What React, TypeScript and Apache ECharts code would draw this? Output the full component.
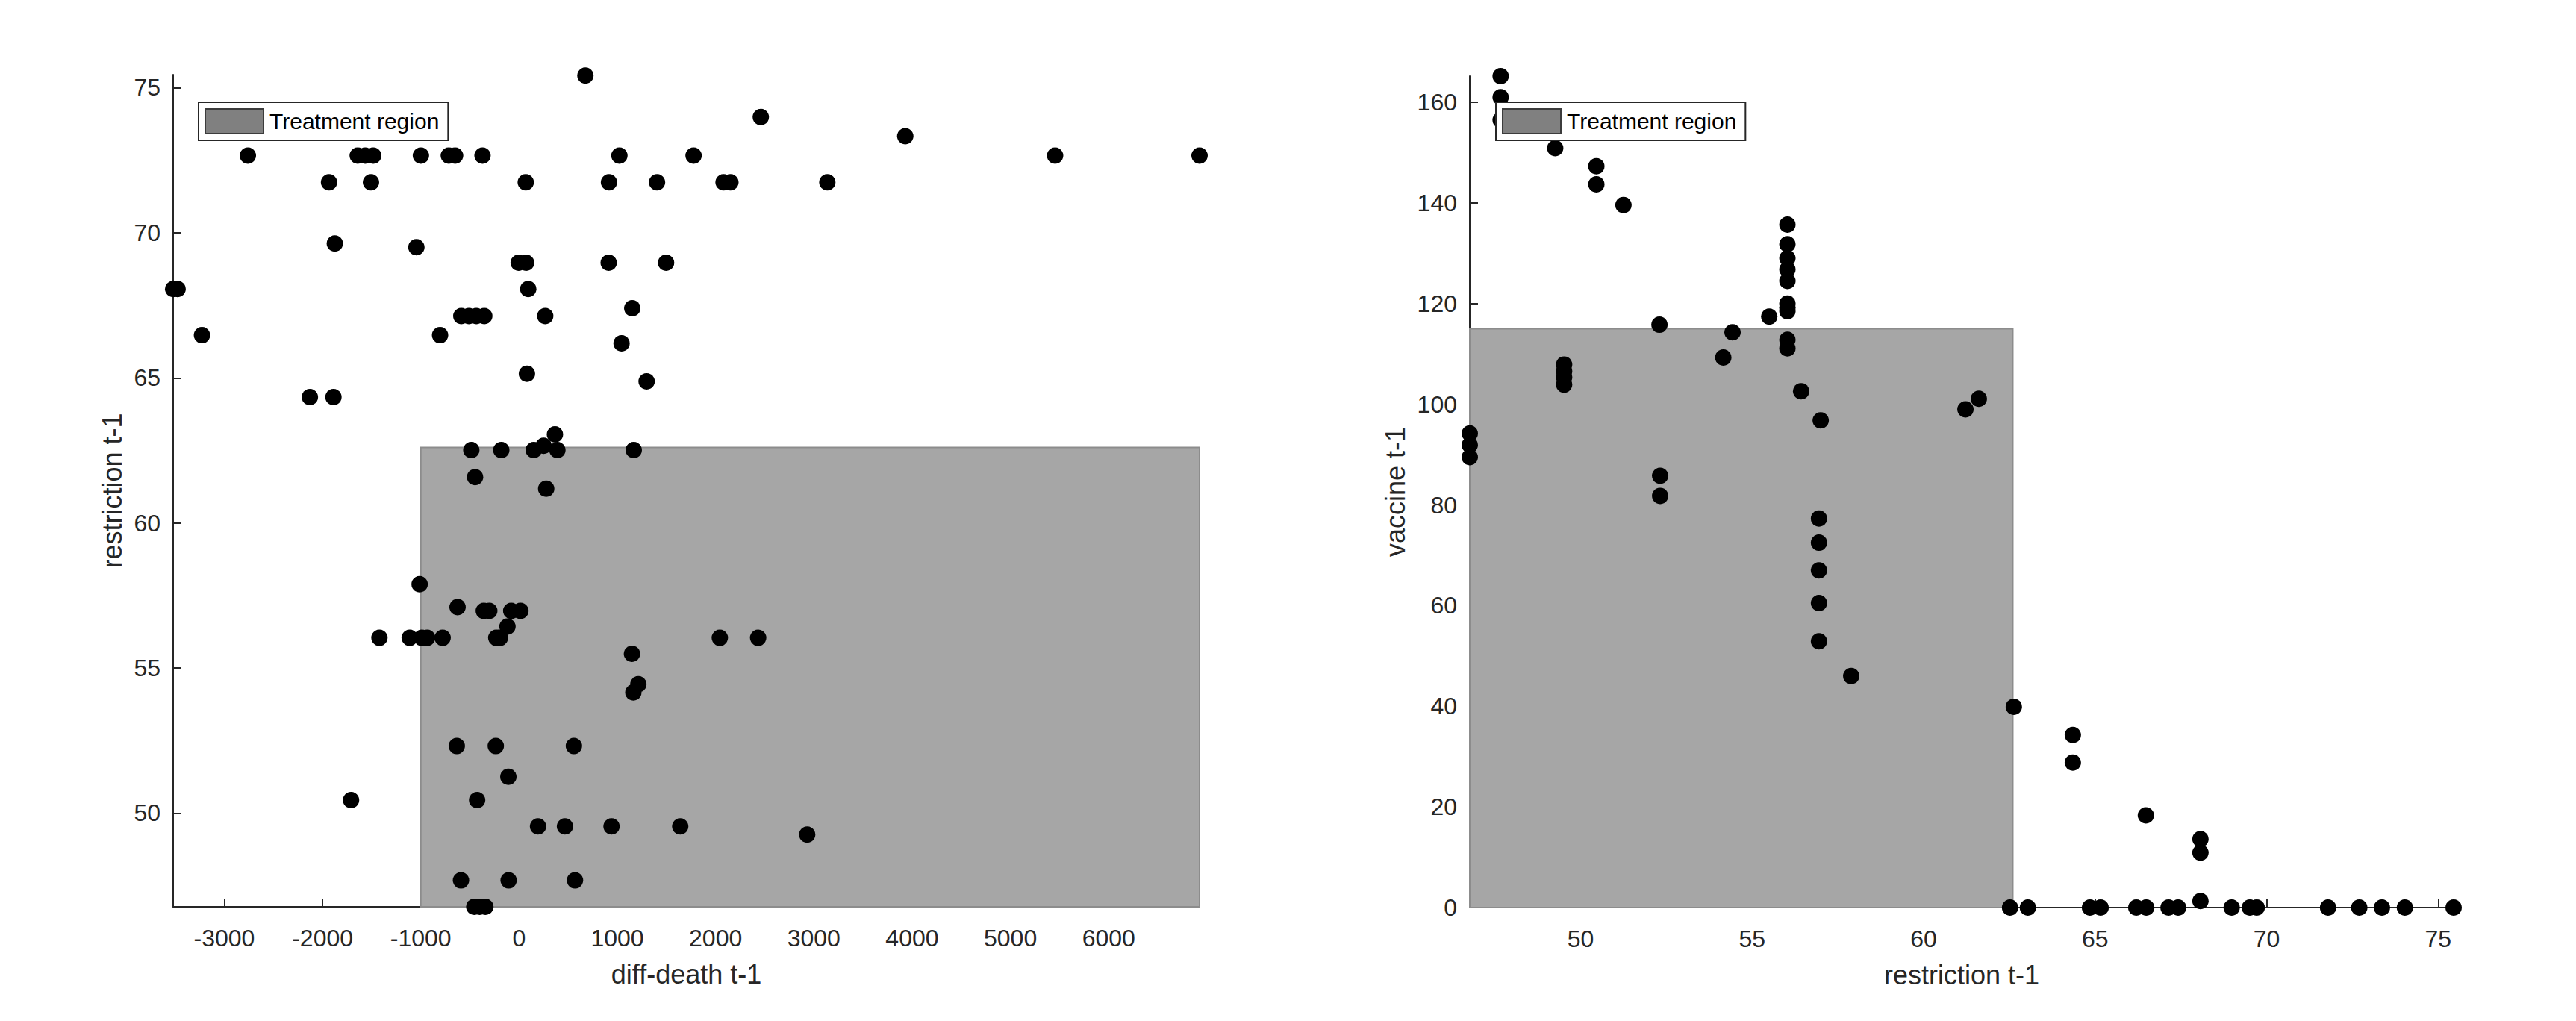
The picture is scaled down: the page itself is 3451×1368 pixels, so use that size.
import React, { useEffect, useRef } from 'react';
import * as echarts from 'echarts';

// ---------- data ----------
// Left panel: [diff-death t-1, restriction t-1]
const deathRestriction: [number, number][] = [
  [675, 75.42],
  [2460, 73.99],
  [3930, 73.33],
  [-2760, 72.66], [-1642, 72.66], [-1566, 72.66], [-1484, 72.66], [-999, 72.66], [-715, 72.66],
  [-651, 72.66], [-372, 72.66], [1021, 72.66], [1776, 72.66], [5455, 72.66], [6925, 72.66],
  [-1934, 71.74], [-1507, 71.74], [68, 71.74], [915, 71.74], [1404, 71.74], [2081, 71.74], [2151, 71.74], [3137, 71.74],
  [-1875, 69.63],
  [-1045, 69.5],
  [-4, 68.97], [72, 68.97], [912, 68.97], [1496, 68.97],
  [-3520, 68.06], [-3475, 68.06], [93, 68.06],
  [1152, 67.4],
  [-588, 67.13], [-511, 67.13], [-435, 67.13], [-354, 67.13], [266, 67.13],
  [-3227, 66.47], [-804, 66.47],
  [1043, 66.19],
  [80, 65.14],
  [1298, 64.88],
  [-2129, 64.34], [-1889, 64.34],
  [365, 63.05],
  [250, 62.66],
  [-486, 62.51], [-181, 62.51], [149, 62.51], [390, 62.51], [1167, 62.51],
  [-448, 61.58],
  [276, 61.18],
  [-1012, 57.89],
  [-626, 57.1],
  [-359, 56.97], [-303, 56.97], [-80, 56.97], [14, 56.97],
  [-118, 56.43],
  [-1421, 56.04], [-1113, 56.04], [-990, 56.04], [-935, 56.04], [-778, 56.04], [-232, 56.04], [-194, 56.04], [2043, 56.04], [2433, 56.04],
  [1149, 55.49],
  [1214, 54.44],
  [1163, 54.16],
  [-634, 52.31], [-237, 52.31], [558, 52.31],
  [-109, 51.25],
  [-1710, 50.45], [-427, 50.45],
  [193, 49.54], [467, 49.54], [941, 49.54], [1640, 49.54],
  [2932, 49.26],
  [-591, 47.68], [-106, 47.68], [569, 47.68],
  [-456, 46.77], [-401, 46.77], [-343, 46.77],
];

// Right panel: [restriction t-1, vaccine t-1]
const restrictionVaccine: [number, number][] = [
  [47.67, 165.2], [47.67, 161.0], [47.67, 156.5],
  [49.26, 150.9], [50.46, 147.3], [50.46, 143.7], [51.25, 139.6],
  [56.03, 135.7], [56.03, 131.8], [56.03, 129.0], [56.03, 126.8], [56.03, 124.5],
  [56.03, 120.0], [56.03, 119.2], [56.03, 118.5], [56.03, 112.8], [56.03, 111.1],
  [55.5, 117.4], [52.3, 115.8], [54.43, 114.3], [54.16, 109.3],
  [49.52, 107.9], [49.52, 106.6], [49.52, 105.4], [49.52, 103.9],
  [56.43, 102.6], [57.0, 96.8],
  [46.77, 94.2], [46.77, 91.9], [46.77, 89.5],
  [61.61, 101.1], [61.22, 99.0],
  [52.32, 85.8], [52.32, 81.8],
  [56.95, 77.3], [56.95, 72.5], [56.95, 67.0], [56.95, 60.5], [56.95, 52.9],
  [57.89, 46.0],
  [62.63, 39.9],
  [64.35, 34.3], [64.35, 28.8],
  [66.48, 18.3],
  [68.07, 13.6], [68.07, 10.9], [68.07, 1.3],
  [62.52, 0], [63.04, 0], [64.85, 0], [65.16, 0], [66.2, 0], [66.49, 0], [67.14, 0], [67.42, 0],
  [68.98, 0], [69.51, 0], [69.71, 0], [71.79, 0], [72.7, 0], [73.36, 0], [74.03, 0], [75.45, 0],
];

// axis ranges and ticks
const deathRange = [-3520, 6925];
const restrictionRange = [46.77, 75.45];
const vaccineRange = [0, 165.2];
const deathTicks = [-3000, -2000, -1000, 0, 1000, 2000, 3000, 4000, 5000, 6000];
const restrictionTicks = [50, 55, 60, 65, 70, 75];
const vaccineTicks = [0, 20, 40, 60, 80, 100, 120, 140, 160];

// treatment regions: [x0, y0, x1, y1]
const leftRegion = [[-1000, restrictionRange[0], deathRange[1], 62.6]];
const rightRegion = [[restrictionRange[0], 0, 62.6, 115]];

const FONT = "'Liberation Sans', Arial, Helvetica, sans-serif";
const AXIS_COLOR = '#262626';

function regionRenderItem(params: any, api: any) {
  const p0 = api.coord([api.value(0), api.value(1)]);
  const p1 = api.coord([api.value(2), api.value(3)]);
  return {
    type: 'rect',
    shape: { x: p0[0], y: p1[1], width: p1[0] - p0[0], height: p0[1] - p1[1] },
    style: { fill: '#a6a6a6', stroke: '#8c8c8c', lineWidth: 2 },
  };
}

function valueAxis(gridIndex: number, range: number[], ticks: number[], name: string, nameGap: number, isY: boolean) {
  return {
    type: 'value',
    gridIndex,
    min: range[0],
    max: range[1],
    name,
    nameLocation: 'middle',
    nameGap,
    nameTextStyle: { fontSize: 36, color: AXIS_COLOR, fontFamily: FONT },
    axisLine: { show: true, onZero: false, lineStyle: { color: AXIS_COLOR, width: 2 } },
    axisTick: { show: true, inside: true, length: 11, customValues: ticks, lineStyle: { color: AXIS_COLOR, width: 2 } },
    axisLabel: {
      show: true,
      customValues: ticks,
      fontSize: 32,
      color: AXIS_COLOR,
      fontFamily: FONT,
      margin: isY ? 17 : 26,
      formatter: (v: number) => String(v),
    },
    splitLine: { show: false },
  };
}

function legendAt(left: number) {
  return {
    data: ['Treatment region'],
    left,
    top: 137,
    orient: 'horizontal',
    icon: 'rect',
    itemWidth: 78,
    itemHeight: 33,
    padding: [8, 12, 8, 8],
    backgroundColor: '#ffffff',
    borderColor: AXIS_COLOR,
    borderWidth: 2,
    borderRadius: 0,
    selectedMode: false,
    itemStyle: { color: '#808080', borderColor: '#3c3c3c', borderWidth: 2 },
    textStyle: { fontSize: 30, color: '#000', fontFamily: FONT, padding: [0, 0, 0, 3] },
  };
}

export default function App() {
  const ref = useRef<HTMLDivElement>(null);

  useEffect(() => {
    if (!ref.current) return;
    const chart = echarts.init(ref.current, undefined, { renderer: 'svg' });
    const pointStyle = { color: '#000000', opacity: 1 };
    const option: any = {
      animation: false,
      backgroundColor: '#ffffff',
      textStyle: { fontFamily: FONT },
      grid: [
        { left: 232, top: 100, width: 1375, height: 1115 },
        { left: 1969, top: 102, width: 1318, height: 1114 },
      ],
      xAxis: [
        valueAxis(0, deathRange, deathTicks, 'diff-death t-1', 72, false),
        valueAxis(1, restrictionRange, restrictionTicks, 'restriction t-1', 72, false),
      ],
      yAxis: [
        valueAxis(0, restrictionRange, restrictionTicks, 'restriction t-1', 64, true),
        valueAxis(1, vaccineRange, vaccineTicks, 'vaccine t-1', 82, true),
      ],
      legend: [legendAt(266), legendAt(2004)],
      series: [
        {
          type: 'custom',
          name: 'Treatment region',
          xAxisIndex: 0,
          yAxisIndex: 0,
          data: leftRegion,
          encode: { x: [0, 2], y: [1, 3] },
          renderItem: regionRenderItem,
          itemStyle: { color: '#808080' },
          z: 1,
          silent: true,
        },
        {
          type: 'scatter',
          name: 'left points',
          xAxisIndex: 0,
          yAxisIndex: 0,
          data: deathRestriction,
          symbol: 'circle',
          symbolSize: 22,
          itemStyle: pointStyle,
          clip: false,
          z: 3,
        },
        {
          type: 'custom',
          name: 'Treatment region',
          xAxisIndex: 1,
          yAxisIndex: 1,
          data: rightRegion,
          encode: { x: [0, 2], y: [1, 3] },
          renderItem: regionRenderItem,
          itemStyle: { color: '#808080' },
          z: 1,
          silent: true,
        },
        {
          type: 'scatter',
          name: 'right points',
          xAxisIndex: 1,
          yAxisIndex: 1,
          data: restrictionVaccine,
          symbol: 'circle',
          symbolSize: 22,
          itemStyle: pointStyle,
          clip: false,
          z: 3,
        },
      ],
    };
    chart.setOption(option);
    return () => chart.dispose();
  }, []);

  return (
    <div
      ref={ref}
      style={{ position: 'fixed', left: 0, top: 0, width: 3451, height: 1368, background: '#fff' }}
    />
  );
}
